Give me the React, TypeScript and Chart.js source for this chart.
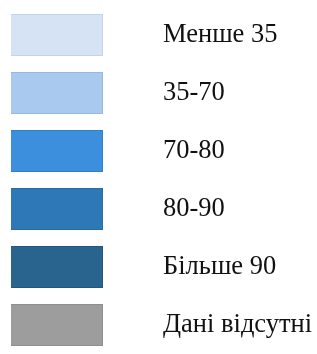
import React, { useEffect, useRef } from "react";
import { Chart, registerables } from "chart.js";

Chart.register(...registerables);

const categories = ["Менше 35", "35-70", "70-80", "80-90", "Більше 90", "Дані відсутні"];
const values = [1, 1, 1, 1, 1, 1];

const fillColors = ["#d5e3f4", "#a9c9ee", "#3b8fdc", "#2f78b8", "#29648f", "#9d9d9d"];
const edgeColors = ["#c3d3e8", "#97b8e0", "#3280c8", "#2a6ca6", "#235780", "#8f8f8f"];

export default function App() {
  const ref = useRef<HTMLCanvasElement | null>(null);

  useEffect(() => {
    document.body.style.margin = "0";
    const canvas = ref.current;
    if (!canvas) return;
    const chart = new Chart(canvas, {
      type: "bar",
      data: {
        labels: categories,
        datasets: [
          {
            data: values,
            backgroundColor: fillColors,
            borderColor: edgeColors,
            borderWidth: 1,
            categoryPercentage: 1,
            barPercentage: 0.72,
          },
        ],
      },
      options: {
        indexAxis: "y",
        animation: false,
        responsive: true,
        maintainAspectRatio: false,
        layout: { padding: { left: 11, top: 6, bottom: -4, right: 0 } },
        plugins: { legend: { display: false }, tooltip: { enabled: false } },
        scales: {
          x: { display: false, min: 0, max: 1 },
          y: {
            position: "right",
            grid: { display: false, drawTicks: false },
            border: { display: false },
            ticks: {
              padding: 60,
              autoSkip: false,
              color: "#111111",
              font: { family: "'Liberation Serif', 'Times New Roman', serif", size: 26.5 },
            },
            afterFit: (scale: any) => {
              scale.width = 214;
              scale.paddingTop = 0;
              scale.paddingBottom = 0;
            },
          },
        },
      },
    });
    return () => chart.destroy();
  }, []);

  return (
    <div style={{ position: "fixed", left: 0, top: 0, width: 317, height: 354 }}>
      <canvas ref={ref} />
    </div>
  );
}
